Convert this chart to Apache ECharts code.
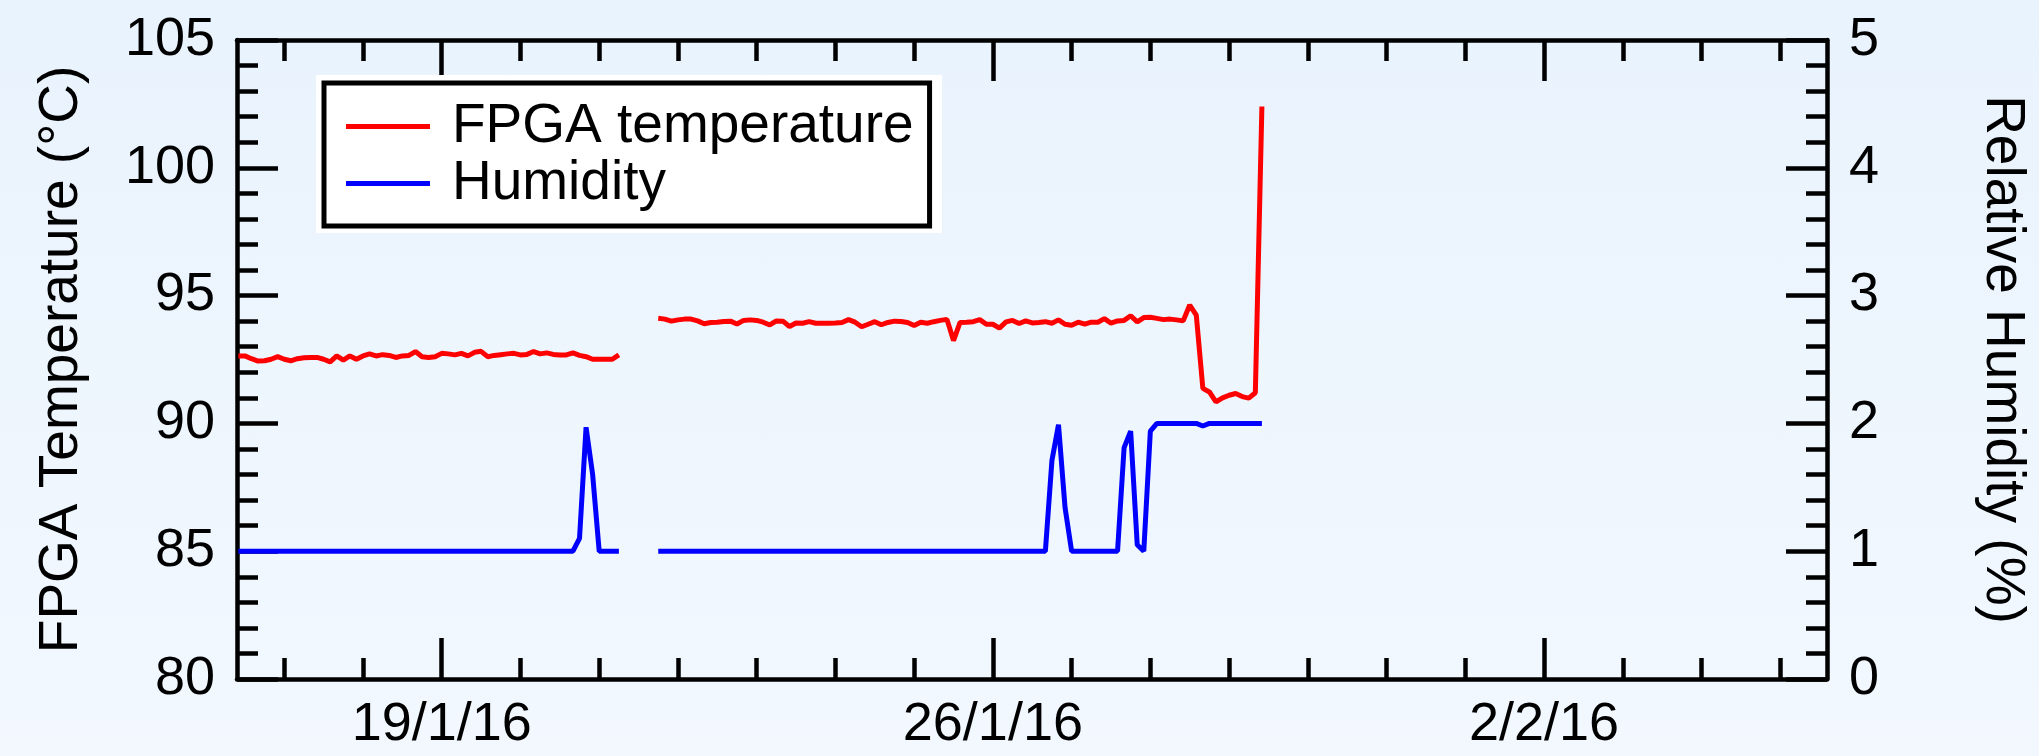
<!DOCTYPE html>
<html>
<head>
<meta charset="utf-8">
<script src="https://cdn.jsdelivr.net/npm/echarts@6/dist/echarts.min.js"></script>
<style>
  html, body { margin: 0; padding: 0; }
  body { background: linear-gradient(#e9f3fd, #f2f8fe); }
  #chart { width: 2039px; height: 756px; }
</style>
</head>
<body>
<div id="chart"></div>
<script>
  const FONT = '"Liberation Sans", Arial, sans-serif';

  // readings every 2 hours, two logging runs with a gap between them
  const stepHours = 2;
  const tempStart1 = '2016-01-16 10:00';
  const tempValues1 = [
    92.64, 92.64, 92.53, 92.44, 92.45, 92.51, 92.61, 92.51, 92.45, 92.53,
    92.57, 92.58, 92.58, 92.51, 92.41, 92.64, 92.48, 92.64, 92.51, 92.64,
    92.72, 92.64, 92.69, 92.66, 92.58, 92.64, 92.66, 92.81, 92.61, 92.58,
    92.61, 92.74, 92.72, 92.68, 92.74, 92.64, 92.78, 92.82, 92.61, 92.66,
    92.69, 92.72, 92.74, 92.68, 92.70, 92.81, 92.72, 92.76, 92.70, 92.68,
    92.68, 92.76, 92.66, 92.61, 92.51, 92.51, 92.51, 92.51, 92.68
  ];
  const tempStart2 = '2016-01-21 18:00';
  const tempValues2 = [
    94.11, 94.08, 94.00, 94.05, 94.08, 94.08, 94.01, 93.90, 93.95, 93.96,
    93.99, 94.00, 93.89, 94.03, 94.05, 94.03, 93.96, 93.85, 94.01, 94.00,
    93.79, 93.93, 93.92, 93.98, 93.92, 93.92, 93.92, 93.93, 93.95, 94.06,
    93.96, 93.78, 93.88, 93.98, 93.86, 93.95, 94.00, 93.99, 93.95, 93.83,
    93.96, 93.92, 93.98, 94.03, 94.07, 93.24, 93.95, 93.96, 93.98, 94.06,
    93.88, 93.88, 93.73, 93.97, 94.03, 93.91, 94.01, 93.93, 93.95, 93.98,
    93.92, 94.05, 93.88, 93.84, 93.96, 93.88, 93.96, 93.96, 94.10, 93.92,
    94.01, 94.03, 94.21, 93.97, 94.14, 94.15, 94.11, 94.06, 94.08, 94.05,
    94.01, 94.63, 94.24, 91.37, 91.23, 90.84, 91.00, 91.10, 91.17, 91.05,
    90.99, 91.20, 102.4
  ];

  // humidity only changes at these readings (flat in between)
  const humidity1 = [
    ['2016-01-16 10:00', 1], ['2016-01-20 16:00', 1], ['2016-01-20 18:00', 1.1],
    ['2016-01-20 20:00', 1.97], ['2016-01-20 22:00', 1.6], ['2016-01-21 00:00', 1],
    ['2016-01-21 06:00', 1]
  ];
  const humidity2 = [
    ['2016-01-21 18:00', 1], ['2016-01-26 16:00', 1], ['2016-01-26 18:00', 1.71],
    ['2016-01-26 20:00', 1.99], ['2016-01-26 22:00', 1.34], ['2016-01-27 00:00', 1],
    ['2016-01-27 14:00', 1], ['2016-01-27 16:00', 1.81], ['2016-01-27 18:00', 1.94],
    ['2016-01-27 20:00', 1.05], ['2016-01-27 22:00', 1], ['2016-01-28 00:00', 1.94],
    ['2016-01-28 02:00', 2], ['2016-01-28 14:00', 2], ['2016-01-28 16:00', 1.98],
    ['2016-01-28 18:00', 2], ['2016-01-29 10:00', 2]
  ];
  const gapTime = '2016-01-21 12:00';

  const xMin = '2016-01-16 09:36';
  const xMax = '2016-02-05 14:15';
  const dateTicks = ['2016-01-19', '2016-01-26', '2016-02-02'];

  function ms(s) {
    const [d, t = '00:00'] = s.split(' ');
    const [Y, M, D] = d.split('-').map(Number);
    const [h, m] = t.split(':').map(Number);
    return Date.UTC(Y, M - 1, D, h, m);
  }
  const HOUR = 3600 * 1000;
  const DAY = 24 * HOUR;

  function sampled(start, values) {
    const t0 = ms(start);
    return values.map((v, i) => [t0 + i * stepHours * HOUR, v]);
  }

  const tempData = sampled(tempStart1, tempValues1)
    .concat([[ms(gapTime), '-']])
    .concat(sampled(tempStart2, tempValues2));
  const humData = humidity1.map(p => [ms(p[0]), p[1]])
    .concat([[ms(gapTime), '-']])
    .concat(humidity2.map(p => [ms(p[0]), p[1]]));

  const majorTicks = dateTicks.map(ms);
  const minorTicks = [];
  for (let t = ms('2016-01-17'); t <= ms(xMax); t += DAY) {
    if (majorTicks.indexOf(t) < 0) minorTicks.push(t);
  }

  const black = { color: '#000', width: 4.5 };

  function xAxisDef(position, ticks, len, withLabels, withLine) {
    return {
      type: 'value',
      position: position,
      min: ms(xMin),
      max: ms(xMax),
      axisLine: { show: withLine, lineStyle: black },
      axisTick: { show: true, inside: true, length: len, customValues: ticks, lineStyle: black },
      axisLabel: {
        show: withLabels,
        customValues: ticks,
        fontSize: 54,
        color: '#000',
        fontFamily: FONT,
        margin: 19,
        formatter: v => {
          const d = new Date(v);
          return d.getUTCDate() + '/' + (d.getUTCMonth() + 1) + '/' + String(d.getUTCFullYear()).slice(2);
        }
      },
      splitLine: { show: false }
    };
  }

  function yAxisDef(opts) {
    return Object.assign({
      type: 'value',
      nameLocation: 'middle',
      nameGap: 148,
      nameTextStyle: { fontSize: 55, color: '#000', fontFamily: FONT },
      axisLine: { show: true, lineStyle: black },
      axisTick: { show: true, inside: true, length: 41, lineStyle: black },
      minorTick: { show: true, splitNumber: 5, length: 21, lineStyle: black },
      axisLabel: { fontSize: 54, color: '#000', fontFamily: FONT, margin: 22 },
      splitLine: { show: false }
    }, opts);
  }

  const option = {
    animation: false,
    backgroundColor: 'transparent',
    grid: { left: 237, right: 212, top: 40, bottom: 77, containLabel: false },
    graphic: [{
      type: 'rect',
      z: 1,
      shape: { x: 316, y: 75, width: 626, height: 158 },
      style: { fill: '#fff' }
    }],
    legend: {
      orient: 'vertical',
      left: 324,
      top: 83,
      padding: [15, 16, 14, 22],
      itemGap: 0,
      itemWidth: 84,
      itemHeight: 5,
      icon: 'rect',
      backgroundColor: '#fff',
      borderColor: '#000',
      borderWidth: 5,
      borderRadius: 0,
      textStyle: { fontSize: 55, color: '#000', fontFamily: FONT, lineHeight: 57, padding: [0, 0, 0, 17] },
      data: ['FPGA temperature', 'Humidity']
    },
    xAxis: [
      xAxisDef('bottom', majorTicks, 41, true, true),
      xAxisDef('bottom', minorTicks, 21, false, false),
      xAxisDef('top', majorTicks, 41, false, true),
      xAxisDef('top', minorTicks, 21, false, false)
    ],
    yAxis: [
      yAxisDef({ position: 'left', min: 80, max: 105, interval: 5, name: 'FPGA Temperature (°C)', nameRotate: 90 }),
      yAxisDef({ position: 'right', min: 0, max: 5, interval: 1, name: 'Relative Humidity (%)', nameRotate: -90 })
    ],
    series: [
      {
        name: 'FPGA temperature',
        type: 'line',
        xAxisIndex: 0,
        yAxisIndex: 0,
        data: tempData,
        showSymbol: false,
        symbol: 'none',
        color: '#ff0000',
        lineStyle: { color: '#ff0000', width: 5 },
        connectNulls: false
      },
      {
        name: 'Humidity',
        type: 'line',
        xAxisIndex: 0,
        yAxisIndex: 1,
        data: humData,
        showSymbol: false,
        symbol: 'none',
        color: '#0000ff',
        lineStyle: { color: '#0000ff', width: 5 },
        connectNulls: false
      }
    ]
  };

  const chart = echarts.init(document.getElementById('chart'));
  chart.setOption(option);
</script>
</body>
</html>
